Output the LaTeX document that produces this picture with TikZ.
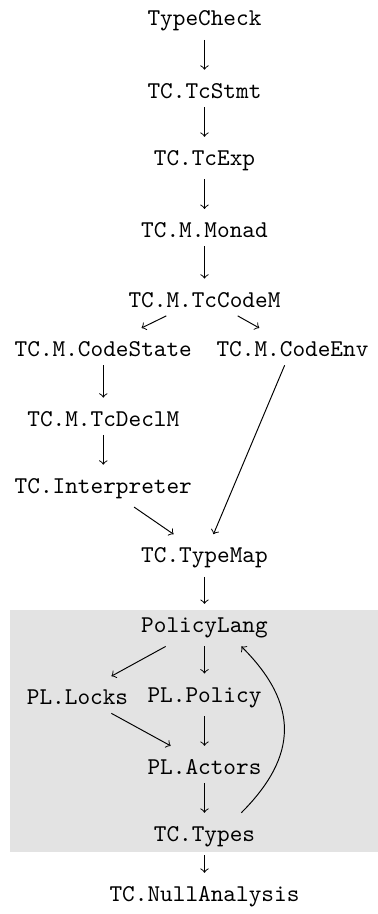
\documentclass[tikz,border=0pt]{standalone}
\usetikzlibrary{positioning,backgrounds}
\tikzset{
  mod/.style={font=\ttfamily, inner sep=3.33pt, text height=8.3pt}
}
\begin{document}
\begin{tikzpicture}[node distance=1.015cm, every node/.style=mod]
    \useasboundingbox (-2.981,0.273) rectangle (2.529,-13.051);
    \node (typecheck) {TypeCheck};
    \node (tcstmt) [below of=typecheck] {TC.TcStmt};
    \node (tcexp) [below of=tcstmt] {TC.TcExp};
    \node (monad) [below of=tcexp] {TC.M.Monad};
    \node (tccodem) [below of=monad] {TC.M.TcCodeM};
    \node (codestate) [below of=tccodem, node distance=0.72cm, xshift=-1.475cm] {TC.M.CodeState};
    \node (codeenv) [below of=tccodem, node distance=0.72cm, xshift=1.283cm] {TC.M.CodeEnv};
    \node (tcdeclm) [below of=codestate] {TC.M.TcDeclM};
    \node (interp) [below of=tcdeclm] {TC.Interpreter};
    \node (typemap) [below of=interp, xshift=1.475cm] {TC.TypeMap};
    \node (policylang) [below of=typemap] {PolicyLang};
    \node (policy) [below of=policylang] {PL.Policy};
    \node (locks) [below of=policylang, xshift=-1.851cm] {PL.Locks};
    \node (actors) [below of=policy] {PL.Actors};
    \node (types) [below of=actors] {TC.Types};
    \node (nullanalysis) [below of=types, node distance=0.875cm] {TC.NullAnalysis};
    % the PolicyLang block
    \begin{scope}[on background layer]
      \fill[gray!22] (-2.835,-8.62) rectangle (2.529,-12.147);
    \end{scope}
    \draw[->] (typecheck) -- (tcstmt); \draw[->] (tcstmt) -- (tcexp);
    \draw[->] (tcexp) -- (monad); \draw[->] (monad) -- (tccodem);
    \draw[->] (tccodem) -- (codestate); \draw[->] (tccodem) -- (codeenv);
    \draw[->] (codestate) -- (tcdeclm); \draw[->] (tcdeclm) -- (interp);
    \draw[->] (interp) -- (typemap); \draw[->] (codeenv) -- (typemap);
    \draw[->] (typemap) -- (policylang);
    \draw[->] (policylang) -- (locks); \draw[->] (policylang) -- (policy);
    \draw[->] (locks) -- (actors); \draw[->] (policy) -- (actors);
    \draw[->] (actors) -- (types); \draw[->] (types) -- (nullanalysis);
    \draw[->] (types.30) to [out=45, in=-45, looseness=1.25] (policylang.-30);
\end{tikzpicture}
\end{document}
